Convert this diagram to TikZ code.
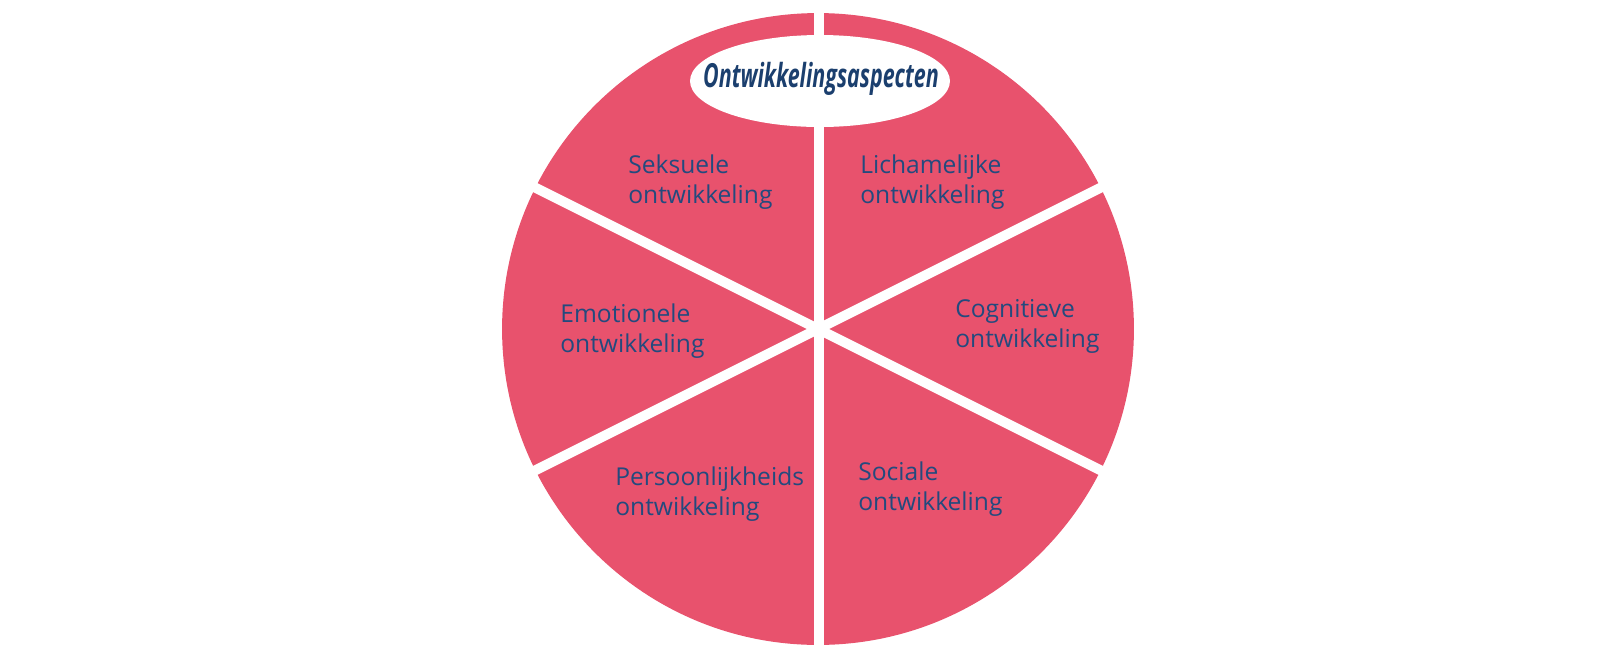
\documentclass[tikz,border=0pt]{standalone}
\usepackage{fontspec}
\setmainfont{Open Sans}
\definecolor{aspectpink}{HTML}{E8526D}
\definecolor{aspectblue}{HTML}{234A7E}
\definecolor{titleblue}{HTML}{1B3F6E}

\begin{document}
\begin{tikzpicture}[x=0.02cm,y=-0.02cm,
  aspect/.style={anchor=west,inner sep=0pt,align=left,text=aspectblue,
    font=\fontsize{14}{17.07}\selectfont},
  gap/.style={white,line width=0.2cm}]
\useasboundingbox (0,0) rectangle (1600,650);
\coordinate (c) at (818,329);
\fill[aspectpink] (c) circle (6.32cm);
\draw[gap] (819,0) -- (819,650);
\draw[gap] (498,169) -- (1138,489);
\draw[gap] (498,489) -- (1138,169);
% title oval
\fill[white] (820,81) ellipse [x radius=2.6cm, y radius=0.92cm];
\node[inner sep=0pt,text=titleblue,font=\fontsize{12.2}{14}\selectfont\bfseries\itshape] (title) at (821,79)
  {\scalebox{1}[1.55]{Ontwikkelingsaspecten}};
\node[aspect] (seks) at (628,182) {Seksuele\\ontwikkeling};
\node[aspect] (lich) at (860,182) {Lichamelijke\\ontwikkeling};
\node[aspect] (emot) at (560,331) {Emotionele\\ontwikkeling};
\node[aspect] (cogn) at (955,326) {Cognitieve\\ontwikkeling};
\node[aspect] (pers) at (615,494) {Persoonlijkheids\\ontwikkeling};
\node[aspect] (soci) at (858,489) {Sociale\\ontwikkeling};
\end{tikzpicture}
\end{document}
